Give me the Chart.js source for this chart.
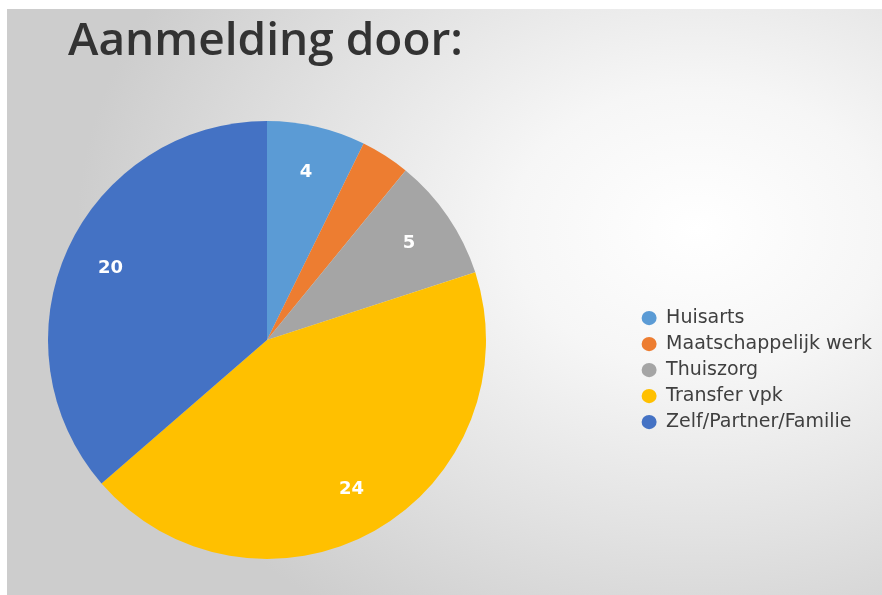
<!DOCTYPE html>
<html><head><meta charset="utf-8">
<script src="https://cdn.jsdelivr.net/npm/chart.js@4"></script>
<style>
html,body{margin:0;padding:0;background:#fff;overflow:hidden;}
#bg{position:absolute;left:7px;top:9px;width:875px;height:586px;
background:radial-gradient(ellipse 620px 470px at 690px 220px,#ffffff 0%,#f6f6f6 30%,#e2e2e2 65%,#cdcdcd 100%);}
canvas{position:absolute;left:0;top:0;}
</style></head>
<body><div id="bg"></div><canvas id="c" width="882" height="595"></canvas>
<script>
const categories = ['Huisarts','Maatschappelijk werk','Thuiszorg','Transfer vpk','Zelf/Partner/Familie'];
const values = [4, 2, 5, 24, 20];
const colors = ['#5B9BD5','#ED7D31','#A5A5A5','#FFC000','#4472C4'];
const showValueLabel = [true, false, true, true, true];
const titleText = 'Aanmelding door:';

// layout of the pie region
const PIE_CX = 267, PIE_CY = 340, PIE_R = 219;

const pieAreaPlugin = {
  id: 'pieArea',
  afterLayout(chart) {
    const a = chart.chartArea;
    a.left = PIE_CX - PIE_R; a.right = PIE_CX + PIE_R;
    a.top = PIE_CY - PIE_R; a.bottom = PIE_CY + PIE_R;
    a.width = 2 * PIE_R; a.height = 2 * PIE_R;
  }
};

const valueLabels = {
  id: 'valueLabels',
  afterDatasetsDraw(chart) {
    const ctx = chart.ctx;
    const meta = chart.getDatasetMeta(0);
    ctx.save();
    ctx.fillStyle = '#ffffff';
    ctx.font = 'bold 18px "DejaVu Sans", sans-serif';
    ctx.textAlign = 'center';
    ctx.textBaseline = 'middle';
    meta.data.forEach((arc, i) => {
      if (!showValueLabel[i]) return;
      const p = arc.getProps(['x','y','startAngle','endAngle','outerRadius'], true);
      const mid = (p.startAngle + p.endAngle) / 2;
      const r = p.outerRadius * 0.785;
      ctx.fillText(String(chart.data.datasets[0].data[i]), p.x + Math.cos(mid) * r, p.y + Math.sin(mid) * r);
    });
    ctx.restore();
  }
};

new Chart(document.getElementById('c'), {
  type: 'pie',
  data: {
    labels: categories,
    datasets: [{ data: values, backgroundColor: colors, borderWidth: 0 }]
  },
  options: {
    responsive: false,
    animation: false,
    layout: { padding: { left: 68, top: 0, right: 0, bottom: 0 } },
    plugins: {
      title: {
        display: true, text: titleText, align: 'start', color: '#333333',
        font: { family: '"Open Sans", sans-serif', size: 46, weight: '600' },
        padding: { top: 14, bottom: 76 }
      },
      legend: {
        position: 'right', align: 'center', fullSize: false,
        labels: {
          color: '#404040', usePointStyle: true, pointStyle: 'circle',
          boxWidth: 15, boxHeight: 10, pointStyleWidth: 15, padding: 7,
          font: { family: '"DejaVu Sans", sans-serif', size: 19, lineHeight: 1.05 }
        }
      },
      tooltip: { enabled: false }
    }
  },
  plugins: [pieAreaPlugin, valueLabels]
});
</script>
</body></html>
